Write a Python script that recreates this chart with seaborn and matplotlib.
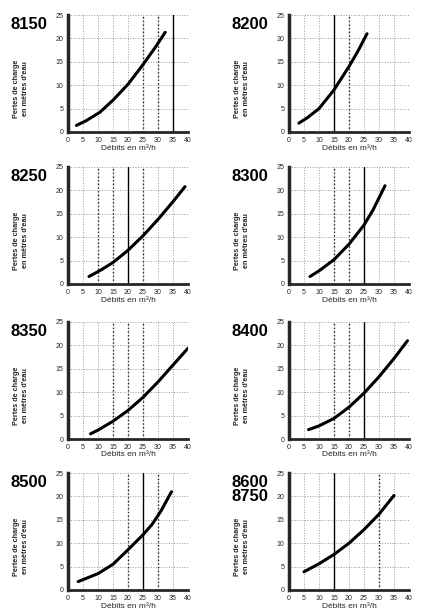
import pandas as pd
import seaborn as sns
import matplotlib.pyplot as plt

# pump models and their head-loss curves (débit m3/h -> pertes de charge m)
models = ["8150", "8200", "8250", "8300", "8350", "8400", "8500", "8600\n8750"]

flow_8150 = [2.8, 6, 10.6, 15, 20, 25, 29, 32.4]
loss_8150 = [1.4, 2.4, 4.2, 6.8, 10.2, 14.4, 18.0, 21.3]

flow_8200 = [3.3, 6, 10, 15, 20, 23, 26]
loss_8200 = [1.9, 3.0, 5.0, 9.0, 14.0, 17.3, 21.0]

flow_8250 = [7, 11, 15, 20, 25, 30, 35, 39]
loss_8250 = [1.6, 3.0, 4.6, 7.2, 10.3, 13.8, 17.6, 20.8]

flow_8300 = [7, 10, 15, 20, 25, 28, 32]
loss_8300 = [1.6, 2.8, 5.2, 8.5, 12.6, 15.8, 21.0]

flow_8350 = [7.5, 10, 15, 20, 25, 30, 35, 40]
loss_8350 = [1.1, 1.9, 3.8, 6.1, 8.9, 12.2, 15.8, 19.4]

flow_8400 = [6.5, 10, 15, 20, 25, 30, 35, 39.5]
loss_8400 = [2.0, 2.8, 4.4, 6.8, 9.8, 13.3, 17.2, 21.0]

flow_8500 = [3.4, 10, 15, 20, 25, 28, 31, 34.5]
loss_8500 = [1.8, 3.5, 5.5, 8.6, 11.8, 14.0, 16.9, 21.0]

flow_8600 = [5, 10, 15, 20, 25, 30, 35]
loss_8600 = [3.9, 5.6, 7.6, 10.0, 12.9, 16.2, 20.2]

flows = [flow_8150, flow_8200, flow_8250, flow_8300,
         flow_8350, flow_8400, flow_8500, flow_8600]
losses = [loss_8150, loss_8200, loss_8250, loss_8300,
          loss_8350, loss_8400, loss_8500, loss_8600]

# marked flow lines on each chart
solid_lines = [[35], [15], [20], [25], [], [25], [25], [15]]
dark_dotted = [[25, 30], [20], [10, 15, 25], [15, 20], [15, 20, 25], [15, 20], [20, 30], [30]]

x_ticks = [0, 5, 10, 15, 20, 25, 30, 35, 40]
y_ticks = [0, 5, 10, 15, 20, 25]

sns.set_style("white")
plt.rcParams['font.family'] = ['Liberation Sans', 'DejaVu Sans']

W, H = 423, 615
fig = plt.figure(figsize=(W / 100, H / 100), dpi=100)

col_left = [68, 289]
row_top = [15, 167, 322, 473]
aw, ah = 120, 117

for i, name in enumerate(models):
    r, c = divmod(i, 2)
    left, top = col_left[c], row_top[r]
    ax = fig.add_axes([left / W, 1 - (top + ah) / H, aw / W, ah / H])

    ax.grid(True, linestyle=":", color="0.6", linewidth=0.7)
    for x in dark_dotted[i]:
        ax.axvline(x, color="0.15", linestyle=":", linewidth=1.0)
    for x in solid_lines[i]:
        ax.axvline(x, color="black", linewidth=1.0)

    df = pd.DataFrame({"flow": flows[i], "loss": losses[i]})
    sns.lineplot(data=df, x="flow", y="loss", ax=ax, color="black", linewidth=2.2)

    ax.set_xlim(0, 40)
    ax.set_ylim(0, 25)
    ax.set_xticks(x_ticks)
    ax.set_yticks(y_ticks)
    ax.tick_params(labelsize=5, length=2, pad=1.5, direction="out")
    ax.set_xlabel("")
    ax.set_ylabel("")
    ax.spines["top"].set_visible(False)
    ax.spines["right"].set_visible(False)
    ax.spines["left"].set_linewidth(2.5)
    ax.spines["bottom"].set_linewidth(2.0)

    fig.text((left - 58) / W, 1 - (top + 2) / H, name, ha="left", va="top",
             fontsize=12, fontweight="bold", linespacing=0.95, color="black")
    fig.text((left - 47) / W, 1 - (top + 74) / H,
             "Pertes de charge\nen mètres d'eau", rotation=90,
             ha="center", va="center", fontsize=5.2, fontweight="bold",
             linespacing=1.4)
    fig.text((left + aw / 2) / W, 1 - (top + ah + 16) / H, "Débits en m³/h",
             ha="center", va="center", fontsize=6)

fig.savefig("out.png", dpi=100)
